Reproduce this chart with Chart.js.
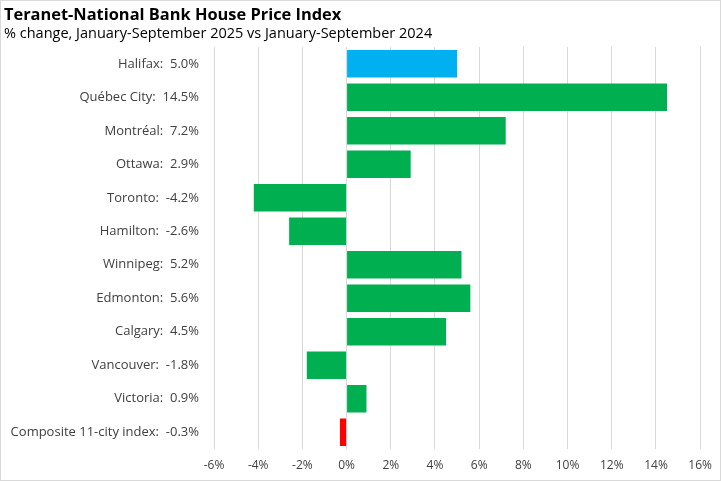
<!DOCTYPE html>
<html>
<head>
<meta charset="utf-8">
<script src="https://cdn.jsdelivr.net/npm/chart.js@4.4.1/dist/chart.umd.min.js"></script>
<style>
  html, body { margin: 0; padding: 0; background: #fff; }
  #wrap { width: 721px; height: 481px; position: relative; }
</style>
</head>
<body>
<div id="wrap"><canvas id="chart" width="721" height="481"></canvas></div>
<script>
// Teranet-National Bank HPI, Jan-Sep 2025 vs Jan-Sep 2024
const cities = ['Halifax', 'Québec City', 'Montréal', 'Ottawa', 'Toronto', 'Hamilton',
  'Winnipeg', 'Edmonton', 'Calgary', 'Vancouver', 'Victoria', 'Composite 11-city index'];
const changes = [5.0, 14.5, 7.2, 2.9, -4.2, -2.6, 5.2, 5.6, 4.5, -1.8, 0.9, -0.3];
const xTicks = [-6, -4, -2, 0, 2, 4, 6, 8, 10, 12, 14, 16];

const labels = cities.map((c, i) => c + ':  ' + changes[i].toFixed(1) + '%');

const FONT = '"Open Sans", sans-serif';

function barColor(i) {
    if (i === 0) return '#00B0F0';
    if (i === cities.length - 1) return '#FF0000';
    return '#00B050';
}

const frame = {
    id: 'frame',
    afterDraw(chart) {
        const ctx = chart.ctx;
        ctx.save();
        ctx.strokeStyle = '#D9D9D9';
        ctx.lineWidth = 1;
        ctx.strokeRect(0.5, 0.5, chart.width - 1, chart.height - 1);
        ctx.restore();
    }
};

new Chart(document.getElementById('chart'), {
    type: 'bar',
    data: {
        labels: labels,
        datasets: [{
            data: changes,
            backgroundColor: changes.map((v, i) => barColor(i)),
            categoryPercentage: 0.82,
            barPercentage: 1.0
        }]
    },
    plugins: [frame],
    options: {
        indexAxis: 'y',
        responsive: false,
        animation: false,
        layout: { padding: { left: 4, right: 16, top: 0, bottom: 0 } },
        plugins: {
            legend: { display: false },
            tooltip: { enabled: false },
            title: {
                display: true,
                text: 'Teranet-National Bank House Price Index',
                align: 'start',
                color: '#000',
                font: { family: FONT, size: 16.4, weight: 'bold' },
                padding: { top: 5, bottom: 0 }
            },
            subtitle: {
                display: true,
                text: '% change, January-September 2025 vs January-September 2024',
                align: 'start',
                color: '#000',
                font: { family: FONT, size: 14.5 },
                padding: { top: 0, bottom: 5 }
            }
        },
        scales: {
            x: {
                min: -6,
                max: 16,
                afterBuildTicks(scale) {
                    scale.ticks = xTicks.map(v => ({ value: v }));
                },
                afterFit(scale) { scale.height = 32; },
                grid: { color: '#D9D9D9', drawTicks: false },
                border: { display: false },
                ticks: {
                    color: '#404040',
                    font: { family: FONT, size: 12 },
                    padding: 9,
                    callback: v => v + '%'
                }
            },
            y: {
                afterFit(scale) { scale.width = 210; },
                grid: { display: false },
                border: { display: false },
                ticks: {
                    color: '#404040',
                    font: { family: FONT, size: 13 },
                    padding: 7
                }
            }
        }
    }
});
</script>
</body>
</html>
